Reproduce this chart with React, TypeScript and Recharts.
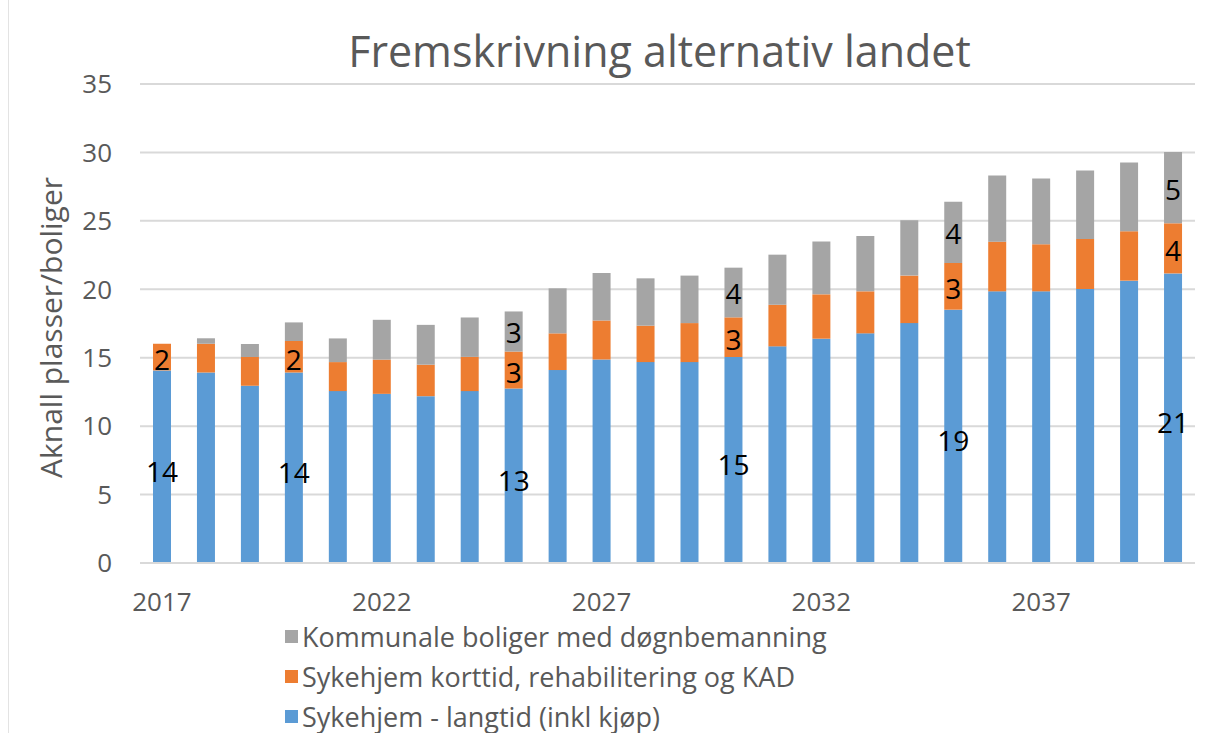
import { Bar, BarChart, CartesianGrid, LabelList, Legend, XAxis, YAxis } from "recharts";

const years = [
  "2017", "2018", "2019", "2020", "2021", "2022", "2023", "2024",
  "2025", "2026", "2027", "2028", "2029", "2030", "2031", "2032",
  "2033", "2034", "2035", "2036", "2037", "2038", "2039", "2040",
];

const langtid = [
  14.07, 13.92, 12.95, 13.92, 12.56, 12.36, 12.19, 12.56,
  12.75, 14.1, 14.87, 14.68, 14.68, 15.05, 15.83, 16.39,
  16.78, 17.53, 18.51, 19.85, 19.85, 20.02, 20.63, 21.16,
];

const korttid = [
  1.95, 2.1, 2.1, 2.3, 2.12, 2.5, 2.3, 2.5,
  2.7, 2.68, 2.85, 2.66, 2.85, 2.9, 3.04, 3.24,
  3.07, 3.47, 3.41, 3.63, 3.44, 3.66, 3.61, 3.66,
];

const boliger = [
  0, 0.4, 0.95, 1.36, 1.73, 2.91, 2.91, 2.88,
  2.93, 3.29, 3.47, 3.46, 3.47, 3.63, 3.66, 3.87,
  4.05, 4.04, 4.47, 4.83, 4.8, 5.0, 5.02, 5.22,
];

// years that carry a data label, per series
const labelYearsMain = ["2017", "2020", "2025", "2030", "2035", "2040"];
const labelYearsBoliger = ["2025", "2030", "2035", "2040"];

const yTicks = [0, 5, 10, 15, 20, 25, 30, 35];

const series = [
  { key: "boliger", name: "Kommunale boliger med døgnbemanning", color: "#A5A5A5" },
  { key: "korttid", name: "Sykehjem korttid, rehabilitering og KAD", color: "#ED7D31" },
  { key: "langtid", name: "Sykehjem - langtid (inkl kjøp)", color: "#5B9BD5" },
];

const data = years.map((year, i) => ({
  year,
  langtid: langtid[i],
  korttid: korttid[i],
  boliger: boliger[i],
  langtidLabel: labelYearsMain.includes(year) ? String(Math.round(langtid[i])) : null,
  korttidLabel: labelYearsMain.includes(year) ? String(Math.round(korttid[i])) : null,
  boligerLabel: labelYearsBoliger.includes(year) ? String(Math.round(boliger[i])) : null,
}));

const FONT = "'Open Sans', sans-serif";
const TEXT = "#595959";

function LegendBox() {
  return (
    <div style={{ height: 120, fontFamily: FONT, fontSize: 27, color: TEXT }}>
      {series.map((s) => (
        <div key={s.key} style={{ height: 40, display: "flex", alignItems: "center" }}>
          <span
            style={{ width: 13, height: 13, background: s.color, display: "inline-block", marginRight: 4 }}
          />
          <span>{s.name}</span>
        </div>
      ))}
    </div>
  );
}

function YLabel(props: any) {
  const { viewBox } = props;
  const cx = 50;
  const cy = viewBox.y + viewBox.height / 2 + 4;
  return (
    <text
      x={cx}
      y={cy}
      transform={`rotate(-90, ${cx}, ${cy})`}
      textAnchor="middle"
      dominantBaseline="central"
      fill={TEXT}
      fontFamily={FONT}
      fontSize={30}
    >
      Aknall plasser/boliger
    </text>
  );
}

export default function App() {
  const labelStyle = { fill: "#000", fontSize: 28, fontFamily: FONT };
  return (
    <div style={{ position: "absolute", left: 0, top: 0, width: 1219, height: 733, background: "#fff" }}>
      <div style={{ position: "absolute", left: 8, top: 0, bottom: 0, borderLeft: "1px solid #e3e3e3" }} />
      <div
        style={{
          position: "absolute",
          left: 0,
          width: 1219,
          top: 21,
          textAlign: "center",
          fontFamily: FONT,
          fontSize: 43,
          color: TEXT,
          paddingLeft: 100,
          boxSizing: "border-box",
        }}
      >
        Fremskrivning alternativ landet
      </div>
      <BarChart
        width={1219}
        height={733}
        data={data}
        margin={{ top: 84, right: 24, bottom: 10, left: 0 }}
      >
        <CartesianGrid stroke="#D9D9D9" strokeWidth={2} vertical={false} />
        <XAxis
          dataKey="year"
          interval={4}
          height={40}
          tickLine={false}
          axisLine={{ stroke: "#D9D9D9", strokeWidth: 2 }}
          tick={{ fill: TEXT, fontSize: 26, fontFamily: FONT }}
          tickMargin={24}
        />
        <YAxis
          width={140}
          domain={[0, 35]}
          ticks={yTicks}
          axisLine={false}
          tickLine={false}
          tick={{ fill: TEXT, fontSize: 26, fontFamily: FONT }}
          tickMargin={22}
          label={<YLabel />}
        />
        <Legend
          verticalAlign="bottom"
          content={() => <LegendBox />}
          wrapperStyle={{ top: 616, left: 285, width: 800 }}
        />
        <Bar dataKey="langtid" stackId="a" fill="#5B9BD5" barSize={18} isAnimationActive={false}>
          <LabelList dataKey="langtidLabel" position="center" dy={5} style={labelStyle} />
        </Bar>
        <Bar dataKey="korttid" stackId="a" fill="#ED7D31" barSize={18} isAnimationActive={false}>
          <LabelList dataKey="korttidLabel" position="center" dy={3} style={labelStyle} />
        </Bar>
        <Bar dataKey="boliger" stackId="a" fill="#A5A5A5" barSize={18} isAnimationActive={false}>
          <LabelList dataKey="boligerLabel" position="center" dy={2} style={labelStyle} />
        </Bar>
      </BarChart>
    </div>
  );
}
